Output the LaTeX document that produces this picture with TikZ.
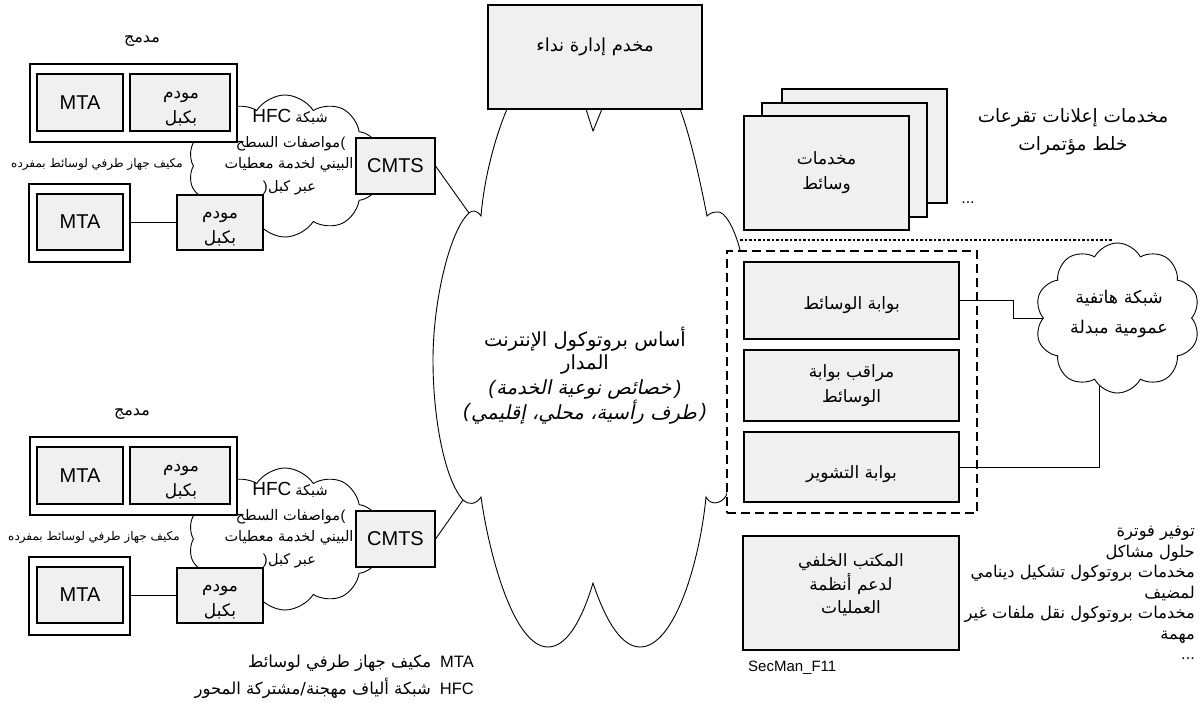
\documentclass[tikz,border=0pt]{standalone}
\usepackage{fontspec}
\setmainfont{Liberation Sans}
\newfontfamily\arfont[Script=Arabic]{DejaVu Sans}
\newfontfamily\arslant[Script=Arabic,FakeSlant=0.2]{DejaVu Sans}
\TeXXeTstate=1
\usetikzlibrary{shapes.symbols}
\definecolor{boxgray}{RGB}{240,240,240}
\newcommand\artxt[1]{{\arfont\beginR #1\endR}}
\newcommand\aritxt[1]{{\arslant\beginR #1\endR}}
\newcommand\fs[2]{\fontsize{#1}{#2}\selectfont}

\tikzset{
  gbox/.style={draw, fill=boxgray, line width=1.1pt, inner sep=0pt, align=center},
  wbox/.style={draw, fill=white, line width=1.1pt, inner sep=0pt},
  wire/.style={line width=0.9pt},
  puff/.style={cloud, draw, fill=white, line width=0.9pt, cloud puffs=10,
    cloud puff arc=115, cloud ignores aspect, inner sep=0pt},
  lbl/.style={inner sep=0pt, align=center},
  fbig/.style={font=\fs{20}{25}},
  far/.style={font=\fs{17}{25}},
}

\begin{document}
\begin{tikzpicture}[x=1pt, y=-1pt]
\useasboundingbox (0,0) rectangle (1203,702);

% ---- managed IP backbone cloud ----
\draw[line width=0.9pt, fill=white]
  (507,109) .. controls (494,140) and (484,180) .. (481,216)
  .. controls (477,210) and (472,210) .. (469,213)
  .. controls (450,230) and (433,300) .. (433,360)
  .. controls (433,420) and (445,480) .. (463,500)
  .. controls (468,505) and (476,505) .. (481,497)
  .. controls (490,560) and (515,647) .. (548,647)
  .. controls (570,647) and (585,610) .. (593,583)
  .. controls (602,610) and (618,647) .. (640,647)
  .. controls (675,647) and (700,560) .. (706,497)
  .. controls (710,505) and (720,505) .. (726,496)
  .. controls (742,450) and (748,300) .. (740,250)
  .. controls (735,230) and (725,210) .. (717,212)
  .. controls (712,212) and (709,214) .. (707,216)
  .. controls (700,180) and (690,135) .. (680,109);
\coordinate (coreA) at (469,213);
\coordinate (coreB) at (463,500);
\coordinate (coreR) at (740,240);
\begin{scope}[every node/.style={lbl, font=\fs{19.5}{24}}]
  \node (core1) at (585,339) {\artxt{أساس بروتوكول الإنترنت}};
  \node (core2) at (585,364) {\artxt{المدار}};
  \node (core3) at (584,389) {\aritxt{خصائص نوعية الخدمة}};
  \node (core4) at (584,412) {\aritxt{طرف رأسية، محلي، إقليمي}};
  \node[anchor=east] at ([xshift=-1pt]core3.west) {\itshape(};
  \node[anchor=west] at ([xshift=3pt]core3.east) {\itshape)};
  \node[anchor=east] at ([xshift=-1pt]core4.west) {\itshape(};
  \node[anchor=west] at ([xshift=3pt]core4.east) {\itshape)};
\end{scope}

% ---- call management server ----
\node[gbox, minimum width=214pt, minimum height=104pt] (cms) at (595,57) {};
\node[lbl, font=\fs{18}{25}] at (595,47) {\artxt{مخدم إدارة نداء}};
\draw[line width=0.9pt] (586,109) -- (593,131) -- (602,109);

% ---- two cable access networks ----
\foreach \g/\dy/\lx/\sx in {1/0/142/97, 2/373/132/94} {
  \begin{scope}[yshift=-\dy pt]
    \node[puff, minimum width=194pt, minimum height=142pt] (hfc\g) at (285,166) {};
    \node[lbl, font=\fs{14.5}{20}] (hA\g) at (290,117) {{\fs{19}{20}HFC} \artxt{شبكة}};
    \node[lbl, font=\fs{14.5}{20}] (hB\g) at (288,144) {\artxt{مواصفات السطح}};
    \node[lbl, font=\fs{14.5}{20}, anchor=west] at (hB\g.east) {(};
    \node[lbl, font=\fs{14.5}{20}] (hC\g) at (289,165) {\artxt{البيني لخدمة معطيات}};
    \node[lbl, font=\fs{14.5}{20}] (hD\g) at (292,188) {\artxt{عبر كبل}};
    \node[lbl, font=\fs{14.5}{20}, anchor=east] at (hD\g.west) {)};
    \node[lbl, font=\fs{16}{20}] at (\lx,41) {\artxt{مدمج}};
    \node[wbox, minimum width=207pt, minimum height=78pt] (emb\g) at (133.5,103) {};
    \node[gbox, fbig, minimum width=86pt, minimum height=57pt] (mtaA\g) at (80,102.5) {MTA};
    \node[gbox, minimum width=100pt, minimum height=57pt] (cmA\g) at (180,102.5) {};
    \node[lbl, far] at (181,109) {\artxt{مودم}\\\artxt{بكبل}};
    \node[lbl, font=\fs{12}{16}] at (\sx,164) {\artxt{مكيف جهاز طرفي لوسائط بمفرده}};
    \node[wbox, minimum width=101pt, minimum height=78pt] (sa\g) at (79.5,223) {};
    \node[gbox, fbig, minimum width=86pt, minimum height=56pt] (mtaB\g) at (80,222) {MTA};
    \node[gbox, minimum width=86pt, minimum height=55pt] (cmB\g) at (220,222.5) {};
    \node[lbl, far] at (220,229) {\artxt{مودم}\\\artxt{بكبل}};
    \draw[wire] (sa\g.east |- cmB\g.west) -- (cmB\g.west);
    \node[gbox, fbig, minimum width=79pt, minimum height=56pt] (cmts\g) at (395.5,166) {CMTS};
  \end{scope}
}
\draw[wire] (cmts1.east) -- (coreA);
\draw[wire] (cmts2.east) -- (coreB);

% ---- media servers ----
\node[gbox, minimum width=165pt, minimum height=114pt] (ms3) at (864.5,146) {};
\node[gbox, minimum width=165pt, minimum height=114pt] (ms2) at (844.5,160) {};
\node[gbox, far, minimum width=165pt, minimum height=114pt] (ms1) at (826.5,173)
  {\artxt{مخدمات}\\\artxt{وسائط}};
\node[lbl, font=\fs{16}{20}] at (968,203) {...};
\node[lbl, font=\fs{18.5}{28}] (mstext) at (1073,132)
  {\artxt{مخدمات إعلانات تقرعات}\\\artxt{خلط مؤتمرات}};

% ---- PSTN interconnect ----
\draw[line width=1.5pt, dash pattern=on 2.5pt off 2pt] (coreR) -- (1113,240);
\node[draw, fill=white, line width=1.5pt, dash pattern=on 9pt off 5pt,
  minimum width=250pt, minimum height=262pt, inner sep=0pt] (pstnbox) at (852,382) {};
\node[gbox, minimum width=215pt, minimum height=77pt] (mg) at (851.5,300.5) {};
\node[lbl, far] at (851.5,305.5) {\artxt{بوابة الوسائط}};
\node[gbox, far, minimum width=215pt, minimum height=71pt] (mgc) at (851.5,385.5)
  {\artxt{مراقب بوابة}\\\artxt{الوسائط}};
\node[gbox, minimum width=215pt, minimum height=70pt] (sg) at (851.5,467) {};
\node[lbl, far] at (851.5,474) {\artxt{بوابة التشوير}};
\node[puff, cloud puff arc=125, minimum width=165pt, minimum height=150pt]
  (pstn) at (1117.5,318) {};
\node[lbl, font=\fs{17.5}{30}] at (1119,314) {\artxt{شبكة هاتفية}\\\artxt{عمومية مبدلة}};
\draw[wire] (mg.east) -- ++(54,0) |- (pstn.west);
\draw[wire] (sg.east) -| (pstn.255);

% ---- operations support ----
\node[gbox, minimum width=216pt, minimum height=114pt] (oss) at (851,593) {};
\node[lbl, font=\fs{17}{23.5}] at (851,585)
  {\artxt{المكتب الخلفي}\\\artxt{لدعم أنظمة}\\\artxt{العمليات}};
\node[lbl, anchor=west, font=\fs{15}{16}] at (748,668) {SecMan\_F11};
\node[lbl, align=right, anchor=east, font=\fs{16.3}{20.5}] (osslist) at (1195,593)
  {\artxt{توفير فوترة}\\
   \artxt{حلول مشاكل}\\
   \artxt{مخدمات بروتوكول تشكيل دينامي}\\
   \artxt{لمضيف}\\
   \artxt{مخدمات بروتوكول نقل ملفات غير}\\
   \artxt{مهمة}\\
   ...};

% ---- legend ----
\node[lbl, anchor=east, font=\fs{16.5}{20}] at (474,663) {\artxt{مكيف جهاز طرفي لوسائط}\hspace{9pt}MTA};
\node[lbl, anchor=east, font=\fs{16.5}{20}] at (474,688) {\artxt{شبكة ألياف مهجنة/مشتركة المحور}\hspace{9pt}HFC};
\end{tikzpicture}
\end{document}
